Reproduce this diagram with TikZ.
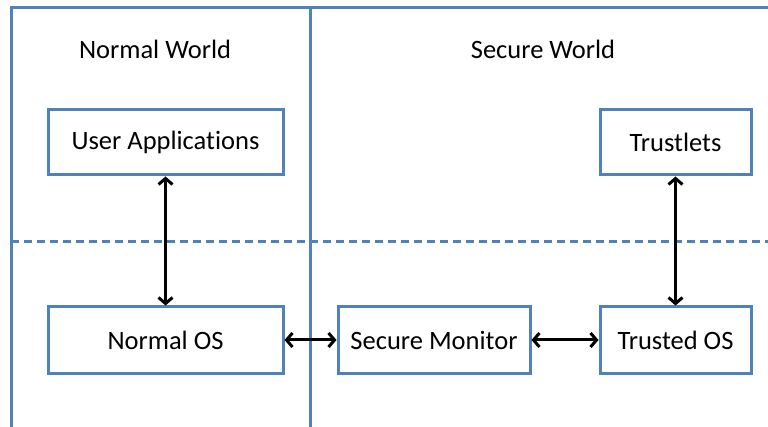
\documentclass[tikz,border=0pt]{standalone}
\usepackage{fontspec}
\setmainfont[Ligatures={NoCommon}]{Carlito}
\usetikzlibrary{arrows.meta}
\definecolor{frameblue}{HTML}{4F81BD}
\begin{document}
\begin{tikzpicture}[x=1pt,y=-1pt,
  frame/.style={draw=frameblue,line width=3pt},
  box/.style={draw=frameblue,line width=3pt,fill=white,minimum height=65pt,inner sep=0pt,font=\fontsize{26.5}{30}\selectfont},
  title/.style={font=\fontsize{26.5}{30}\selectfont,inner sep=0pt},
  link/.style={line width=3pt,{Straight Barb[length=6pt,width=14pt]}-{Straight Barb[length=6pt,width=14pt]}}]
\useasboundingbox[fill=white] (0,0) rectangle (768,427);
\draw[frame] (11,432) -- (11,8) -- (775,8);
\draw[frame] (310,8) -- (310,432);
\draw[frame,dash pattern=on 8pt off 5pt] (11,242) -- (775,242);
\node[title] (nw) at (155,49) {Normal World};
\node[title] (sw) at (543,49) {Secure World};
\node[box,minimum width=235pt] (ua) at (165.5,142.5) {User Applications};
\node[box,minimum width=151pt] (tl) at (675.5,142.5) {Trustlets};
\node[box,minimum width=235pt,minimum height=66pt] (nos) at (165.5,340) {Normal OS};
\node[box,minimum width=192pt,minimum height=66pt] (sm) at (434,340) {Secure Monitor};
\node[box,minimum width=151pt,minimum height=66pt] (tos) at (675.5,340) {Trusted OS};
\draw[link] (ua) -- (nos);
\draw[link] (tl) -- (tos);
\draw[link] (nos) -- (sm);
\draw[link] (sm) -- (tos);
\end{tikzpicture}
\end{document}
